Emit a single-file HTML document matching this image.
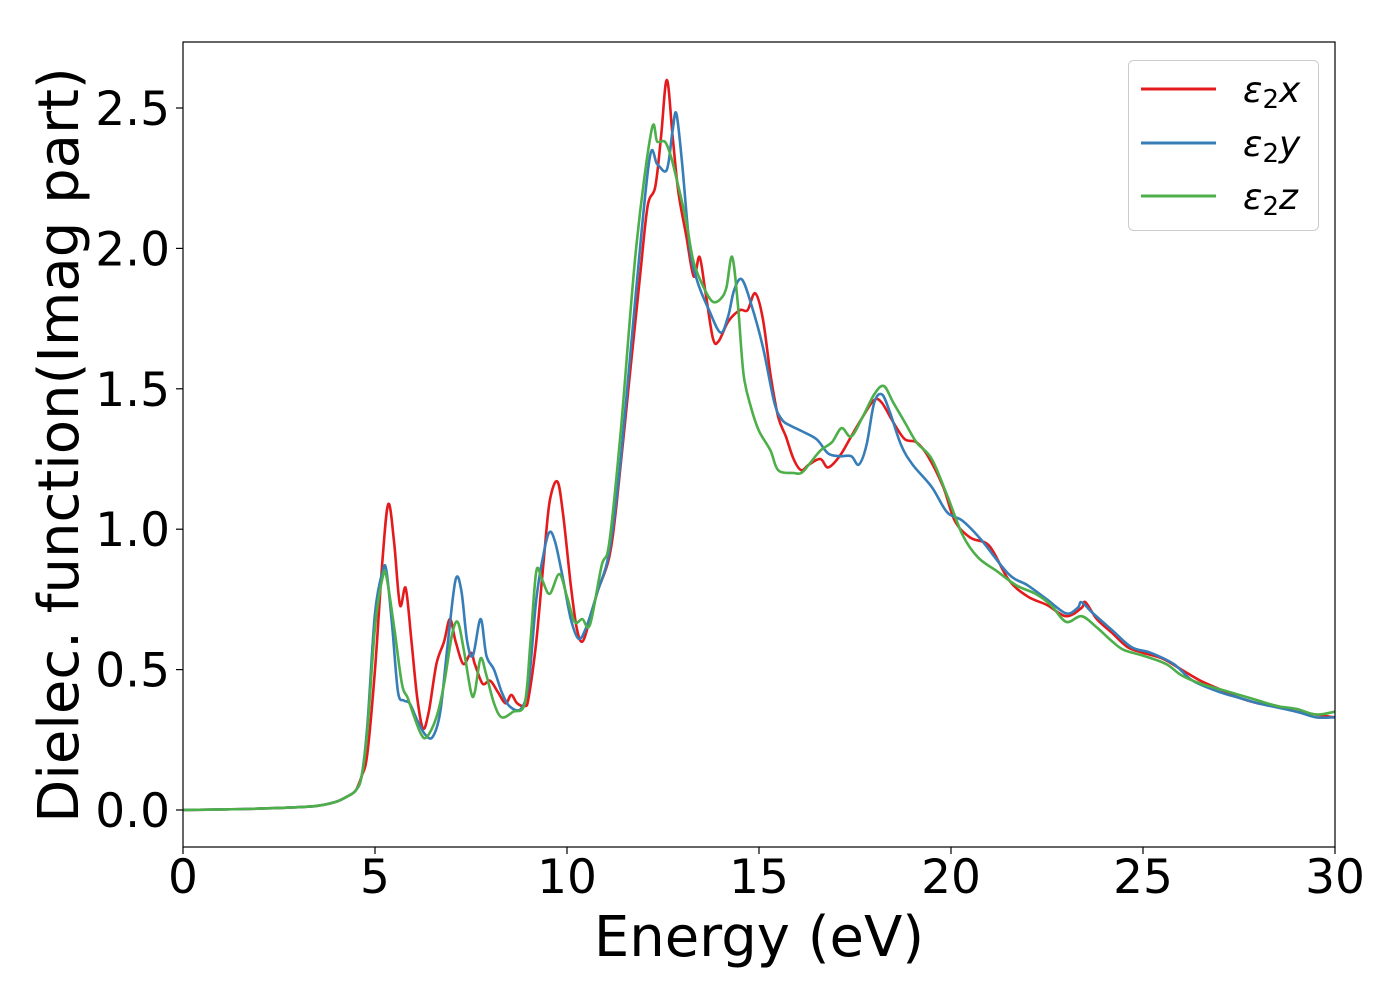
<!DOCTYPE html>
<html><head><meta charset="utf-8"><style>
html,body{margin:0;padding:0;background:#fff;}
svg text{font-family:"DejaVu Sans","Liberation Sans",sans-serif;fill:#000;}
</style></head><body>
<svg id="chart" width="1400" height="1000" xmlns="http://www.w3.org/2000/svg">
<rect x="0" y="0" width="1400" height="1000" fill="#fff"/>
<g id="series"></g>
<rect x="183" y="42" width="1152" height="805" fill="none" stroke="#000" stroke-width="1.2"/>
<g id="xticks"></g><g id="yticks"></g>
<text x="759" y="956" font-size="56" text-anchor="middle">Energy (eV)</text>
<text transform="translate(78,445) rotate(-90)" font-size="56" text-anchor="middle">Dielec. function(Imag part)</text>
<g>
<rect x="1128.5" y="60.5" width="190" height="170" rx="5" fill="#fff" fill-opacity="0.8" stroke="#ccc" stroke-width="1"/>
<line x1="1141" y1="89" x2="1216" y2="89" stroke="#e41a1c" stroke-width="3"/>
<line x1="1141" y1="143" x2="1216" y2="143" stroke="#377eb8" stroke-width="3"/>
<line x1="1141" y1="196" x2="1216" y2="196" stroke="#4daf4a" stroke-width="3"/>
<text x="1243" y="102" font-size="36" font-style="italic">ε<tspan font-style="normal" font-size="26" dy="6">2</tspan><tspan dy="-6">x</tspan></text>
<text x="1243" y="156" font-size="36" font-style="italic">ε<tspan font-style="normal" font-size="26" dy="6">2</tspan><tspan dy="-6">y</tspan></text>
<text x="1243" y="209" font-size="36" font-style="italic">ε<tspan font-style="normal" font-size="26" dy="6">2</tspan><tspan dy="-6">z</tspan></text>
</g>
</svg>
<script>
const xTicks=[0,5,10,15,20,25,30];
const yTicks=[0.0,0.5,1.0,1.5,2.0,2.5];
const yTickLabels=["0.0","0.5","1.0","1.5","2.0","2.5"];
const lowE=[0,1,2,3,3.5,4,4.3,4.5,4.65];
const lowV=[0,0.002,0.005,0.01,0.015,0.03,0.05,0.07,0.12];
const redE=[4.8,5.0,5.2,5.35,5.5,5.65,5.8,5.95,6.1,6.25,6.4,6.6,6.8,6.95,7.1,7.3,7.5,7.6,7.8,8.0,8.2,8.4,8.55,8.7,8.9,9.0,9.2,9.4,9.55,9.75,9.9,10.1,10.25,10.4,10.6,10.8,11.1,11.3,11.6,11.9,12.1,12.3,12.45,12.6,12.75,12.9,13.1,13.3,13.45,13.6,13.8,13.95,14.2,14.5,14.7,14.9,15.1,15.3,15.5,15.7,15.9,16.1,16.3,16.6,16.8,17.1,17.4,17.7,18.0,18.2,18.5,18.8,19.1,19.4,19.8,20.1,20.5,21,21.5,22,22.5,23,23.4,23.5,23.8,24.2,24.6,25,25.5,26,26.5,27,27.5,28,28.5,29,29.5,30];
const redV=[0.2,0.5,0.9,1.09,0.95,0.73,0.79,0.6,0.4,0.29,0.35,0.52,0.6,0.68,0.6,0.52,0.56,0.52,0.45,0.46,0.42,0.38,0.41,0.38,0.37,0.4,0.6,0.9,1.1,1.17,1.05,0.8,0.65,0.6,0.68,0.78,0.9,1.1,1.5,1.9,2.15,2.22,2.4,2.6,2.4,2.2,2.05,1.9,1.97,1.85,1.68,1.67,1.74,1.78,1.78,1.84,1.75,1.55,1.4,1.33,1.25,1.21,1.23,1.25,1.22,1.26,1.33,1.4,1.46,1.45,1.38,1.32,1.31,1.26,1.15,1.03,0.97,0.94,0.82,0.76,0.73,0.69,0.72,0.74,0.68,0.63,0.58,0.56,0.54,0.5,0.46,0.43,0.4,0.38,0.37,0.35,0.34,0.33];
const blueE=[4.8,5.0,5.2,5.3,5.45,5.6,5.75,5.9,6.1,6.3,6.5,6.7,6.9,7.1,7.25,7.4,7.55,7.75,7.9,8.1,8.3,8.5,8.8,9.0,9.2,9.4,9.55,9.7,9.9,10.1,10.3,10.5,10.8,11.1,11.4,11.8,12.15,12.35,12.6,12.75,12.85,13.0,13.2,13.4,13.7,14.0,14.2,14.35,14.55,14.8,15.1,15.4,15.6,15.8,16.1,16.5,16.8,17.1,17.4,17.6,17.8,18.0,18.2,18.4,18.7,19.0,19.5,19.9,20.3,20.8,21.5,22,22.5,23,23.3,23.4,23.7,24.2,24.7,25.2,25.8,26.3,27,27.5,28,29,29.5,30];
const blueV=[0.3,0.7,0.85,0.85,0.65,0.42,0.39,0.38,0.32,0.27,0.26,0.35,0.6,0.82,0.78,0.6,0.55,0.68,0.55,0.5,0.42,0.37,0.36,0.45,0.75,0.92,0.99,0.95,0.82,0.68,0.61,0.65,0.78,0.92,1.25,1.85,2.32,2.3,2.28,2.42,2.48,2.3,2.0,1.88,1.78,1.7,1.76,1.85,1.89,1.8,1.65,1.45,1.39,1.37,1.35,1.32,1.27,1.26,1.26,1.23,1.3,1.45,1.48,1.42,1.3,1.23,1.15,1.06,1.03,0.96,0.84,0.8,0.75,0.7,0.72,0.74,0.7,0.64,0.58,0.56,0.52,0.46,0.42,0.4,0.38,0.35,0.33,0.33];
const greenE=[4.8,5.0,5.2,5.3,5.5,5.7,5.85,6.0,6.2,6.35,6.6,6.8,7.0,7.15,7.3,7.5,7.6,7.75,7.9,8.1,8.3,8.6,8.9,9.05,9.2,9.35,9.55,9.8,10.0,10.2,10.4,10.6,10.9,11.1,11.4,11.8,12.2,12.35,12.55,12.7,12.85,13.1,13.3,13.6,13.8,14.0,14.15,14.3,14.45,14.6,14.8,15.0,15.3,15.5,15.9,16.1,16.3,16.6,16.9,17.15,17.4,17.7,18.0,18.25,18.5,18.8,19.1,19.5,19.9,20.3,20.7,21.2,21.7,22.2,22.6,23,23.4,23.8,24.2,24.5,25,25.6,26,26.5,27,27.5,28,28.5,29,29.5,30];
const greenV=[0.28,0.65,0.83,0.83,0.65,0.45,0.4,0.34,0.27,0.26,0.33,0.45,0.62,0.67,0.58,0.42,0.42,0.54,0.48,0.38,0.33,0.35,0.38,0.6,0.85,0.82,0.77,0.84,0.76,0.67,0.68,0.66,0.87,0.95,1.35,2.0,2.42,2.38,2.38,2.33,2.25,2.1,1.95,1.85,1.81,1.82,1.86,1.97,1.8,1.55,1.43,1.35,1.28,1.21,1.2,1.2,1.23,1.28,1.31,1.36,1.33,1.4,1.48,1.51,1.45,1.38,1.31,1.25,1.12,0.98,0.9,0.85,0.8,0.77,0.73,0.67,0.69,0.65,0.6,0.57,0.55,0.52,0.48,0.45,0.43,0.41,0.39,0.37,0.36,0.34,0.35];

const X0=183,X1=1335,XMIN=0,XMAX=30;
const Y0v=810,PXU=280.8;
function sx(e){return X0+(e-XMIN)/(XMAX-XMIN)*(X1-X0);}
function sy(v){return Y0v-v*PXU;}
function pathFrom(E,V){
  const p=E.map((e,i)=>[sx(e),sy(V[i])]);
  let d="M"+p[0][0].toFixed(1)+","+p[0][1].toFixed(1);
  for(let i=0;i<p.length-1;i++){
    const a=p[Math.max(0,i-1)],b=p[i],c=p[i+1],n=p[Math.min(p.length-1,i+2)];
    const c1=[b[0]+(c[0]-a[0])/6,b[1]+(c[1]-a[1])/6];
    const c2=[c[0]-(n[0]-b[0])/6,c[1]-(n[1]-b[1])/6];
    d+=" C"+c1[0].toFixed(1)+","+c1[1].toFixed(1)+" "+c2[0].toFixed(1)+","+c2[1].toFixed(1)+" "+c[0].toFixed(1)+","+c[1].toFixed(1);
  }
  return d;
}
const NS="http://www.w3.org/2000/svg";
const g=document.getElementById("series");
const defs=[["series-eps2-x","#e41a1c",redE,redV],["series-eps2-y","#377eb8",blueE,blueV],["series-eps2-z","#4daf4a",greenE,greenV]];
defs.forEach(s=>{
  const el=document.createElementNS(NS,"path");
  
  
  el.setAttribute("d",pathFrom(lowE.concat(s[2]),lowV.concat(s[3])));
  el.setAttribute("fill","none");el.setAttribute("stroke",s[1]);el.setAttribute("stroke-width","2.6");
  g.appendChild(el);
});
const xg=document.getElementById("xticks");
xTicks.forEach(t=>{
  const ln=document.createElementNS(NS,"line");
  
  
  ln.setAttribute("x1",sx(t));ln.setAttribute("x2",sx(t));ln.setAttribute("y1",847);ln.setAttribute("y2",854);ln.setAttribute("stroke","#000");ln.setAttribute("stroke-width","1.2");
  xg.appendChild(ln);
  const tx=document.createElementNS(NS,"text");
  
  
  tx.setAttribute("x",sx(t));tx.setAttribute("y",893);tx.setAttribute("font-size","47");tx.setAttribute("text-anchor","middle");
  tx.textContent=t;xg.appendChild(tx);
});
const yg=document.getElementById("yticks");
yTicks.forEach((t,i)=>{
  const ln=document.createElementNS(NS,"line");
  
  
  ln.setAttribute("x1",176);ln.setAttribute("x2",183);ln.setAttribute("y1",sy(t));ln.setAttribute("y2",sy(t));ln.setAttribute("stroke","#000");ln.setAttribute("stroke-width","1.2");
  yg.appendChild(ln);
  const tx=document.createElementNS(NS,"text");
  
  
  tx.setAttribute("x",170);tx.setAttribute("y",sy(t)+17);tx.setAttribute("font-size","47");tx.setAttribute("text-anchor","end");
  tx.textContent=yTickLabels[i];yg.appendChild(tx);
});
</script>
</body></html>
